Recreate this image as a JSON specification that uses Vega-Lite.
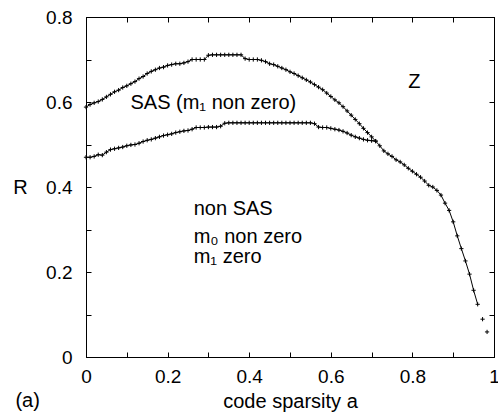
{
  "$schema": "https://vega.github.io/schema/vega-lite/v6.json",
  "width": 408,
  "height": 340,
  "autosize": {"type": "none"},
  "padding": {"left": 86, "top": 17, "right": 4, "bottom": 59},
  "background": "white",
  "config": {
    "font": "Liberation Sans",
    "view": {"stroke": "black", "strokeWidth": 1},
    "axis": {"grid": false, "domainColor": "black", "tickColor": "black", "labelColor": "black", "titleColor": "black", "labelFont": "Liberation Sans", "titleFont": "Liberation Sans", "titleFontWeight": "normal", "labelFontSize": 19, "titleFontSize": 20, "tickSize": -5, "tickWidth": 1, "domainWidth": 1}
  },
  "datasets": {
    "curves": [
      {"a": 0.00, "R": 0.588, "s": "SAS"}, {"a": 0.01, "R": 0.594, "s": "SAS"}, {"a": 0.02, "R": 0.598, "s": "SAS"}, {"a": 0.03, "R": 0.601, "s": "SAS"}, {"a": 0.04, "R": 0.606, "s": "SAS"}, {"a": 0.05, "R": 0.612, "s": "SAS"}, {"a": 0.06, "R": 0.618, "s": "SAS"}, {"a": 0.07, "R": 0.624, "s": "SAS"}, {"a": 0.08, "R": 0.628, "s": "SAS"}, {"a": 0.09, "R": 0.634, "s": "SAS"},
      {"a": 0.10, "R": 0.638, "s": "SAS"}, {"a": 0.11, "R": 0.643, "s": "SAS"}, {"a": 0.12, "R": 0.648, "s": "SAS"}, {"a": 0.13, "R": 0.655, "s": "SAS"}, {"a": 0.14, "R": 0.660, "s": "SAS"}, {"a": 0.15, "R": 0.667, "s": "SAS"}, {"a": 0.16, "R": 0.672, "s": "SAS"}, {"a": 0.17, "R": 0.676, "s": "SAS"}, {"a": 0.18, "R": 0.680, "s": "SAS"}, {"a": 0.19, "R": 0.682, "s": "SAS"},
      {"a": 0.20, "R": 0.686, "s": "SAS"}, {"a": 0.21, "R": 0.688, "s": "SAS"}, {"a": 0.22, "R": 0.690, "s": "SAS"}, {"a": 0.23, "R": 0.690, "s": "SAS"}, {"a": 0.24, "R": 0.692, "s": "SAS"}, {"a": 0.25, "R": 0.695, "s": "SAS"}, {"a": 0.26, "R": 0.700, "s": "SAS"}, {"a": 0.27, "R": 0.700, "s": "SAS"}, {"a": 0.28, "R": 0.700, "s": "SAS"}, {"a": 0.29, "R": 0.700, "s": "SAS"},
      {"a": 0.30, "R": 0.710, "s": "SAS"}, {"a": 0.31, "R": 0.711, "s": "SAS"}, {"a": 0.32, "R": 0.711, "s": "SAS"}, {"a": 0.33, "R": 0.711, "s": "SAS"}, {"a": 0.34, "R": 0.711, "s": "SAS"}, {"a": 0.35, "R": 0.711, "s": "SAS"}, {"a": 0.36, "R": 0.711, "s": "SAS"}, {"a": 0.37, "R": 0.711, "s": "SAS"}, {"a": 0.38, "R": 0.711, "s": "SAS"}, {"a": 0.39, "R": 0.702, "s": "SAS"},
      {"a": 0.40, "R": 0.700, "s": "SAS"}, {"a": 0.41, "R": 0.700, "s": "SAS"}, {"a": 0.42, "R": 0.700, "s": "SAS"}, {"a": 0.43, "R": 0.698, "s": "SAS"}, {"a": 0.44, "R": 0.695, "s": "SAS"}, {"a": 0.45, "R": 0.690, "s": "SAS"}, {"a": 0.46, "R": 0.688, "s": "SAS"}, {"a": 0.47, "R": 0.684, "s": "SAS"}, {"a": 0.48, "R": 0.680, "s": "SAS"}, {"a": 0.49, "R": 0.676, "s": "SAS"},
      {"a": 0.50, "R": 0.671, "s": "SAS"}, {"a": 0.51, "R": 0.667, "s": "SAS"}, {"a": 0.52, "R": 0.662, "s": "SAS"}, {"a": 0.53, "R": 0.657, "s": "SAS"}, {"a": 0.54, "R": 0.652, "s": "SAS"}, {"a": 0.55, "R": 0.647, "s": "SAS"}, {"a": 0.56, "R": 0.641, "s": "SAS"}, {"a": 0.57, "R": 0.635, "s": "SAS"}, {"a": 0.58, "R": 0.629, "s": "SAS"}, {"a": 0.59, "R": 0.621, "s": "SAS"},
      {"a": 0.60, "R": 0.613, "s": "SAS"}, {"a": 0.61, "R": 0.605, "s": "SAS"}, {"a": 0.62, "R": 0.598, "s": "SAS"}, {"a": 0.63, "R": 0.589, "s": "SAS"}, {"a": 0.64, "R": 0.579, "s": "SAS"}, {"a": 0.65, "R": 0.569, "s": "SAS"}, {"a": 0.66, "R": 0.559, "s": "SAS"}, {"a": 0.67, "R": 0.549, "s": "SAS"}, {"a": 0.68, "R": 0.538, "s": "SAS"}, {"a": 0.69, "R": 0.528, "s": "SAS"},
      {"a": 0.70, "R": 0.518, "s": "SAS"}, {"a": 0.71, "R": 0.508, "s": "SAS"}, {"a": 0.72, "R": 0.497, "s": "SAS"}, {"a": 0.73, "R": 0.485, "s": "SAS"}, {"a": 0.74, "R": 0.478, "s": "SAS"}, {"a": 0.75, "R": 0.472, "s": "SAS"}, {"a": 0.76, "R": 0.464, "s": "SAS"}, {"a": 0.77, "R": 0.459, "s": "SAS"}, {"a": 0.78, "R": 0.452, "s": "SAS"}, {"a": 0.79, "R": 0.444, "s": "SAS"},
      {"a": 0.80, "R": 0.437, "s": "SAS"}, {"a": 0.81, "R": 0.430, "s": "SAS"}, {"a": 0.82, "R": 0.423, "s": "SAS"}, {"a": 0.83, "R": 0.414, "s": "SAS"}, {"a": 0.84, "R": 0.404, "s": "SAS"}, {"a": 0.85, "R": 0.400, "s": "SAS"}, {"a": 0.86, "R": 0.392, "s": "SAS"}, {"a": 0.87, "R": 0.381, "s": "SAS"}, {"a": 0.88, "R": 0.362, "s": "SAS"}, {"a": 0.89, "R": 0.345, "s": "SAS"},
      {"a": 0.90, "R": 0.318, "s": "SAS"}, {"a": 0.91, "R": 0.285, "s": "SAS"}, {"a": 0.92, "R": 0.255, "s": "SAS"}, {"a": 0.93, "R": 0.226, "s": "SAS"}, {"a": 0.94, "R": 0.195, "s": "SAS"}, {"a": 0.95, "R": 0.157, "s": "SAS"}, {"a": 0.96, "R": 0.124, "s": "SAS"}, {"a": 0.972, "R": 0.089, "s": "SAS"}, {"a": 0.983, "R": 0.059, "s": "SAS"},
      {"a": 0.00, "R": 0.470, "s": "nonSAS"}, {"a": 0.01, "R": 0.470, "s": "nonSAS"}, {"a": 0.02, "R": 0.472, "s": "nonSAS"}, {"a": 0.03, "R": 0.476, "s": "nonSAS"}, {"a": 0.04, "R": 0.475, "s": "nonSAS"}, {"a": 0.05, "R": 0.482, "s": "nonSAS"}, {"a": 0.06, "R": 0.488, "s": "nonSAS"}, {"a": 0.07, "R": 0.490, "s": "nonSAS"}, {"a": 0.08, "R": 0.492, "s": "nonSAS"}, {"a": 0.09, "R": 0.494, "s": "nonSAS"},
      {"a": 0.10, "R": 0.497, "s": "nonSAS"}, {"a": 0.11, "R": 0.499, "s": "nonSAS"}, {"a": 0.12, "R": 0.500, "s": "nonSAS"}, {"a": 0.13, "R": 0.503, "s": "nonSAS"}, {"a": 0.14, "R": 0.507, "s": "nonSAS"}, {"a": 0.15, "R": 0.510, "s": "nonSAS"}, {"a": 0.16, "R": 0.512, "s": "nonSAS"}, {"a": 0.17, "R": 0.515, "s": "nonSAS"}, {"a": 0.18, "R": 0.518, "s": "nonSAS"}, {"a": 0.19, "R": 0.521, "s": "nonSAS"},
      {"a": 0.20, "R": 0.523, "s": "nonSAS"}, {"a": 0.21, "R": 0.525, "s": "nonSAS"}, {"a": 0.22, "R": 0.528, "s": "nonSAS"}, {"a": 0.23, "R": 0.530, "s": "nonSAS"}, {"a": 0.24, "R": 0.532, "s": "nonSAS"}, {"a": 0.25, "R": 0.533, "s": "nonSAS"}, {"a": 0.26, "R": 0.536, "s": "nonSAS"}, {"a": 0.27, "R": 0.540, "s": "nonSAS"}, {"a": 0.28, "R": 0.540, "s": "nonSAS"}, {"a": 0.29, "R": 0.540, "s": "nonSAS"},
      {"a": 0.30, "R": 0.541, "s": "nonSAS"}, {"a": 0.31, "R": 0.541, "s": "nonSAS"}, {"a": 0.32, "R": 0.541, "s": "nonSAS"}, {"a": 0.33, "R": 0.543, "s": "nonSAS"}, {"a": 0.34, "R": 0.550, "s": "nonSAS"}, {"a": 0.35, "R": 0.551, "s": "nonSAS"}, {"a": 0.36, "R": 0.551, "s": "nonSAS"}, {"a": 0.37, "R": 0.551, "s": "nonSAS"}, {"a": 0.38, "R": 0.551, "s": "nonSAS"}, {"a": 0.39, "R": 0.551, "s": "nonSAS"},
      {"a": 0.40, "R": 0.551, "s": "nonSAS"}, {"a": 0.41, "R": 0.551, "s": "nonSAS"}, {"a": 0.42, "R": 0.551, "s": "nonSAS"}, {"a": 0.43, "R": 0.551, "s": "nonSAS"}, {"a": 0.44, "R": 0.551, "s": "nonSAS"}, {"a": 0.45, "R": 0.551, "s": "nonSAS"}, {"a": 0.46, "R": 0.551, "s": "nonSAS"}, {"a": 0.47, "R": 0.551, "s": "nonSAS"}, {"a": 0.48, "R": 0.551, "s": "nonSAS"}, {"a": 0.49, "R": 0.551, "s": "nonSAS"},
      {"a": 0.50, "R": 0.551, "s": "nonSAS"}, {"a": 0.51, "R": 0.551, "s": "nonSAS"}, {"a": 0.52, "R": 0.551, "s": "nonSAS"}, {"a": 0.53, "R": 0.551, "s": "nonSAS"}, {"a": 0.54, "R": 0.551, "s": "nonSAS"}, {"a": 0.55, "R": 0.551, "s": "nonSAS"}, {"a": 0.56, "R": 0.549, "s": "nonSAS"}, {"a": 0.57, "R": 0.541, "s": "nonSAS"}, {"a": 0.58, "R": 0.540, "s": "nonSAS"}, {"a": 0.59, "R": 0.540, "s": "nonSAS"},
      {"a": 0.60, "R": 0.538, "s": "nonSAS"}, {"a": 0.61, "R": 0.536, "s": "nonSAS"}, {"a": 0.62, "R": 0.534, "s": "nonSAS"}, {"a": 0.63, "R": 0.531, "s": "nonSAS"}, {"a": 0.64, "R": 0.527, "s": "nonSAS"}, {"a": 0.65, "R": 0.522, "s": "nonSAS"}, {"a": 0.66, "R": 0.518, "s": "nonSAS"}, {"a": 0.67, "R": 0.515, "s": "nonSAS"}, {"a": 0.68, "R": 0.512, "s": "nonSAS"}, {"a": 0.69, "R": 0.510, "s": "nonSAS"},
      {"a": 0.70, "R": 0.509, "s": "nonSAS"}, {"a": 0.71, "R": 0.508, "s": "nonSAS"}
    ],
    "labels": [
      {"a": 0.109, "R": 0.584, "text": "SAS (m₁ non zero)"},
      {"a": 0.79, "R": 0.634, "text": "Z"},
      {"a": 0.264, "R": 0.333, "text": "non SAS"},
      {"a": 0.264, "R": 0.268, "text": "m₀ non zero"},
      {"a": 0.264, "R": 0.222, "text": "m₁ zero"},
      {"a": -0.173, "R": -0.118, "text": "(a)"}
    ]
  },
  "layer": [
    {
      "data": {"name": "curves"},
      "transform": [{"filter": "datum.a < 0.965"}],
      "mark": {"type": "line", "color": "black", "strokeWidth": 1, "clip": false},
      "encoding": {
        "x": {"field": "a", "type": "quantitative", "scale": {"domain": [0, 1], "nice": false, "zero": false},
          "axis": {"orient": "bottom", "values": [0, 0.1, 0.2, 0.3, 0.4, 0.5, 0.6, 0.7, 0.8, 0.9, 1], "labelExpr": "round(datum.value*10) % 2 == 0 ? format(datum.value, '~g') : ''", "labelPadding": 15, "title": "code sparsity a", "titlePadding": 5, "titleFontSize": 20, "labelFlush": false, "labelOverlap": false}},
        "y": {"field": "R", "type": "quantitative", "scale": {"domain": [0, 0.8], "nice": false, "zero": false},
          "axis": {"orient": "left", "values": [0, 0.1, 0.2, 0.3, 0.4, 0.5, 0.6, 0.7, 0.8], "labelExpr": "round(datum.value*10) % 2 == 0 ? format(datum.value, '~g') : ''", "labelPadding": 19, "title": "R", "titleAngle": 0, "titleX": -66, "titleY": 170, "titleAlign": "center", "titleBaseline": "middle", "labelFlush": false, "labelOverlap": false}},
        "detail": {"field": "s"}
      }
    },
    {
      "data": {"name": "curves"},
      "mark": {"type": "point", "shape": "M-1,0L1,0M0,-1L0,1", "filled": false, "stroke": "black", "strokeWidth": 1, "size": 18, "opacity": 1, "clip": false},
      "encoding": {
        "x": {"field": "a", "type": "quantitative", "scale": {"domain": [0, 1], "nice": false, "zero": false},
          "axis": {"orient": "top", "values": [0, 0.1, 0.2, 0.3, 0.4, 0.5, 0.6, 0.7, 0.8, 0.9, 1], "labels": false, "title": null}},
        "y": {"field": "R", "type": "quantitative", "scale": {"domain": [0, 0.8], "nice": false, "zero": false},
          "axis": {"orient": "right", "values": [0, 0.1, 0.2, 0.3, 0.4, 0.5, 0.6, 0.7, 0.8], "labels": false, "title": null}}
      }
    },
    {
      "data": {"name": "labels"},
      "mark": {"type": "text", "fontSize": 20, "align": "left", "baseline": "alphabetic", "color": "black", "clip": false, "font": "Liberation Sans"},
      "encoding": {
        "x": {"field": "a", "type": "quantitative", "axis": null},
        "y": {"field": "R", "type": "quantitative", "axis": null},
        "text": {"field": "text"}
      }
    }
  ],
  "resolve": {"axis": {"x": "independent", "y": "independent"}}
}
